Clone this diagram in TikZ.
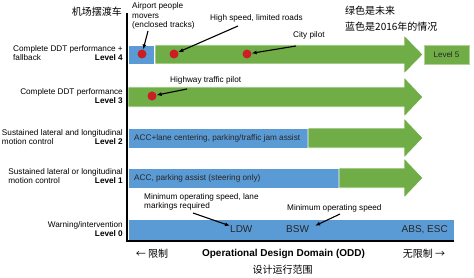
\documentclass[tikz,border=0pt]{standalone}
\usepackage{fontspec}
\setmainfont{Liberation Sans}
\newfontfamily\cjk{Noto Sans CJK SC}
\definecolor{oddblue}{RGB}{91,155,213}
\definecolor{oddgreen}{RGB}{112,173,71}
\definecolor{dotred}{RGB}{204,28,36}
\usetikzlibrary{arrows.meta,positioning}
\newcommand{\lvllabel}[3]{\begin{tabular}{@{}l@{}r@{}}\multicolumn{2}{@{}r@{}}{#1}\\#2&\textbf{#3}\end{tabular}}

\begin{document}
\begin{tikzpicture}[x=1pt, y=-1pt,
    small/.style={font=\fontsize{8.2}{9.4}\selectfont, inner sep=0pt, align=left},
    bartext/.style={font=\fontsize{8.2}{9}\selectfont, inner sep=0pt, text=black!85},
    feat/.style={font=\fontsize{10}{12}\selectfont, inner sep=0pt, text=black!85},
    cjklabel/.style={font=\cjk\fontsize{10}{12}\selectfont, inner sep=0pt},
    dot/.style={circle, fill=dotred, minimum size=9pt, inner sep=0pt},
    ann/.style={-{Latex[length=5pt,width=4pt]}, line width=1.1pt},
    bar/.style={draw=white, line width=0.8pt}
  ]
  \useasboundingbox (0,0) rectangle (474,278);

  % bars
  \filldraw[bar, fill=oddblue] (128,45) rectangle (154,64);
  \filldraw[bar, fill=oddblue] (128,128) rectangle (308,148);
  \filldraw[bar, fill=oddblue] (128,168) rectangle (339,188);
  \filldraw[bar, fill=oddblue] (128,219) rectangle (454,240);
  \foreach \xs/\yt/\yb in {155/45/64, 128/87/107, 308/128/148, 339/168/188}
    \filldraw[bar, fill=oddgreen] (\xs,\yt) -- (404,\yt) -- (404,{\yt-10})
      -- (423,{(\yt+\yb)/2}) -- (404,{\yb+10}) -- (404,\yb) -- (\xs,\yb) -- cycle;
  \node[draw=oddgreen!55!white, line width=0.8pt, fill=oddgreen, minimum width=45pt,
    minimum height=19pt, font=\fontsize{8}{9}\selectfont, text=black!85] (lvlfive) at (446.5,54.5) {Level 5};

  % axes
  \draw[line width=1.8pt] (127,13) -- (127,241) -- (454,241);

  % level labels
  \node[small, anchor=east] (lvlfour) at (123,54) {\lvllabel{Complete DDT performance +}{fallback}{Level 4}};
  \node[small, anchor=east] (lvlthree) at (123,97) {\lvllabel{Complete DDT performance}{}{Level 3}};
  \node[small, anchor=east] (lvltwo) at (123,138) {\lvllabel{Sustained lateral and longitudinal}{motion control}{Level 2}};
  \node[small, anchor=east] (lvlone) at (123,177) {\lvllabel{Sustained lateral or longitudinal}{motion control}{Level 1}};
  \node[small, anchor=east] (lvlzero) at (123,230) {\lvllabel{Warning/intervention}{}{Level 0}};

  % texts on the bars
  \node[bartext, anchor=west] (acclane) at (134,138) {ACC+lane centering, parking/traffic jam assist};
  \node[bartext, anchor=west] (accpark) at (134,178) {ACC, parking assist (steering only)};
  \node[feat, anchor=west] (ldw) at (230,229.5) {LDW};
  \node[feat, anchor=west] (bsw) at (286,229.5) {BSW};
  \node[feat, anchor=east] (abs) at (448,229.5) {ABS, ESC};

  % dots
  \node[dot] (dotapm) at (142,54) {};
  \node[dot] (dothigh) at (174,54) {};
  \node[dot] (dotcity) at (247,54) {};
  \node[dot] (dothwy) at (152,96) {};

  % notes
  \node[small, anchor=north west] (apmnote) at (132,2.5) {Airport people\\movers\\(enclosed tracks)};
  \node[small, anchor=west] (highnote) at (210,18) {High speed, limited roads};
  \node[small, anchor=west] (citynote) at (293,35) {City pilot};
  \node[small, anchor=west] (hwynote) at (170,80) {Highway traffic pilot};
  \node[small, anchor=north west] (ldwnote) at (144,193) {Minimum operating speed, lane\\markings required};
  \node[small, anchor=west] (bswnote) at (287,208) {Minimum operating speed};
  \coordinate (apmtail) at (148,31);
  \coordinate (hightail) at (238,26);
  \coordinate (citytail) at (296,46);
  \coordinate (hwytail) at (187,89);
  \coordinate (ldwtail) at (193,213);
  \coordinate (bswtail) at (340,214);
  \draw[ann] (apmtail) -- (dotapm);
  \draw[ann] (hightail) -- (dothigh);
  \draw[ann] (citytail) -- (dotcity);
  \draw[ann] (hwytail) -- (dothwy);
  \draw[ann] (ldwtail) -- (ldw.north west);
  \draw[ann] (bswtail) -- ([xshift=6pt]bsw.north east);

  % axis labels
  \node[cjklabel, anchor=east] (shuttle) at (122,12) {机场摆渡车};
  \node[cjklabel, anchor=west] (greennote) at (345,11) {绿色是未来};
  \node[cjklabel, anchor=west] (bluenote) at (345,27) {蓝色是2016年的情况};
  \node[cjklabel] (limited) at (152,254) {← 限制};
  \node[font=\bfseries\fontsize{10}{12}\selectfont, inner sep=0pt] (odd) at (283.5,254) {Operational Design Domain (ODD)};
  \node[cjklabel] (oddcn) at (282.5,270) {设计运行范围};
  \node[cjklabel] (unlimited) at (424,254) {无限制 →};
\end{tikzpicture}
\end{document}
